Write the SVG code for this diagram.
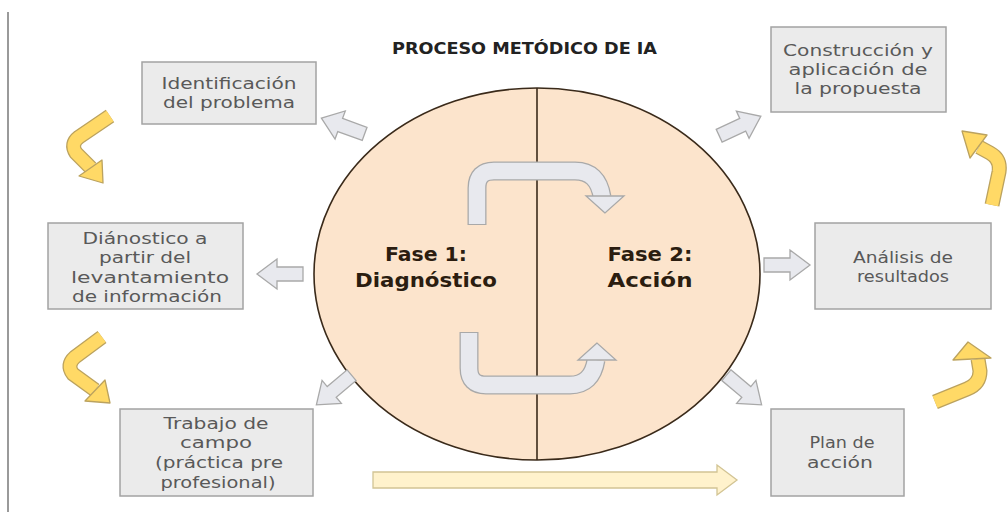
<svg xmlns="http://www.w3.org/2000/svg" width="1008" height="512" viewBox="0 0 1008 512">
<defs>
<style>
.box{fill:#EBEBEB;stroke:#A3A3A3;stroke-width:1.5}
.bt{font-family:"DejaVu Sans","Liberation Sans",sans-serif;font-size:16px;fill:#595959;text-anchor:middle}
.fase{font-family:"DejaVu Sans","Liberation Sans",sans-serif;font-size:20px;font-weight:bold;fill:#2b1d10;text-anchor:middle}
.garrow{fill:#E8E9EE;stroke:#A9A9A9;stroke-width:1.3}
.gs-out{fill:none;stroke:#A9A9A9;stroke-width:19}
.gs-in{fill:none;stroke:#E8E9EE;stroke-width:16.4}
.ys-out{fill:none;stroke:#BBA25E;stroke-width:15}
.ys-in{fill:none;stroke:#FFD966;stroke-width:12.4}
.yhead{fill:#FFD966;stroke:#BBA25E;stroke-width:1.3;stroke-linejoin:round}
</style>
<polygon id="blk" points="-23,-7 3,-7 3,-15 23,0 3,15 3,7 -23,7"/>
</defs>
<rect width="1008" height="512" fill="#ffffff"/>
<line x1="8" y1="12" x2="8" y2="512" stroke="#9a9a9a" stroke-width="2"/>
<text x="524.5" y="54" font-family="DejaVu Sans, Liberation Sans, sans-serif" font-size="15.5" font-weight="bold" fill="#222" text-anchor="middle" textLength="265" lengthAdjust="spacingAndGlyphs">PROCESO METÓDICO DE IA</text>

<g id="circle">
<ellipse cx="537" cy="274" rx="223" ry="186" fill="#FCE4CC" stroke="#3a2a1a" stroke-width="1.6"/>
<line x1="537" y1="88" x2="537" y2="460" stroke="#3a2a1a" stroke-width="1.6"/>
<text class="fase" x="426" y="261" textLength="82" lengthAdjust="spacingAndGlyphs">Fase 1:</text>
<text class="fase" x="426" y="287" textLength="142" lengthAdjust="spacingAndGlyphs">Diagnóstico</text>
<text class="fase" x="650" y="261" textLength="85" lengthAdjust="spacingAndGlyphs">Fase 2:</text>
<text class="fase" x="650" y="287" textLength="85" lengthAdjust="spacingAndGlyphs">Acción</text>
</g>

<g id="connectors">
<path class="gs-out" d="M 477 225 V 188 Q 477 171 494 171 H 575 Q 598 171 602 197"/>
<path class="gs-in" d="M 477 224 V 188 Q 477 171 494 171 H 575 Q 598 171 602 197"/>
<polygon class="garrow" points="605,213 586,196 624,196"/>
<path class="gs-out" d="M 469 332 V 368 Q 469 385 486 385 H 570 Q 592 385 596 360"/>
<path class="gs-in" d="M 469 333 V 368 Q 469 385 486 385 H 570 Q 592 385 596 360"/>
<polygon class="garrow" points="597,343 578,360 616,360"/>
<use href="#blk" class="garrow" transform="translate(343,126) rotate(200)"/>
<use href="#blk" class="garrow" transform="translate(740,126) rotate(-25)"/>
<use href="#blk" class="garrow" transform="translate(280,274) rotate(180)"/>
<use href="#blk" class="garrow" transform="translate(787,265)"/>
<use href="#blk" class="garrow" transform="translate(334,390) rotate(140)"/>
<use href="#blk" class="garrow" transform="translate(744,390) rotate(40)"/>
<polygon points="373,472 717,472 717,465 737,480 717,495 717,488 373,488" fill="#FFF2CC" stroke="#D2C494" stroke-width="1.3"/>
<path class="ys-out" d="M 110 116 L 79 137 Q 70 144 76 153 L 91 168"/>
<path class="ys-in" d="M 110 116 L 79 137 Q 70 144 76 153 L 91 168"/>
<polygon class="yhead" points="103,183 79,176 102,160"/>
<path class="ys-out" d="M 102 337 L 75 357 Q 66 365 73 374 L 95 390"/>
<path class="ys-in" d="M 102 337 L 75 357 Q 66 365 73 374 L 95 390"/>
<polygon class="yhead" points="110,403 85,401 105,380"/>
<path class="ys-out" d="M 992 205 L 999 172 Q 1001 159 990 153 L 979 147"/>
<path class="ys-in" d="M 992 205 L 999 172 Q 1001 159 990 153 L 979 147"/>
<polygon class="yhead" points="962,131 987,135 970,158"/>
<path class="ys-out" d="M 935 402 L 967 389 Q 980 384 980 371 L 978 359"/>
<path class="ys-in" d="M 935 402 L 967 389 Q 980 384 980 371 L 978 359"/>
<polygon class="yhead" points="968,342 953,360 991,358"/>
</g>

<g id="n-identificacion">
<rect class="box" x="142" y="62" width="174" height="62"/>
<text class="bt" x="229" y="89" textLength="135" lengthAdjust="spacingAndGlyphs">Identificación</text>
<text class="bt" x="229" y="108" textLength="132" lengthAdjust="spacingAndGlyphs">del problema</text>
</g>
<g id="n-construccion">
<rect class="box" x="771" y="27" width="175" height="85"/>
<text class="bt" x="858" y="56" textLength="150" lengthAdjust="spacingAndGlyphs">Construcción y</text>
<text class="bt" x="858" y="75" textLength="139" lengthAdjust="spacingAndGlyphs">aplicación de</text>
<text class="bt" x="858" y="94" textLength="127" lengthAdjust="spacingAndGlyphs">la propuesta</text>
</g>
<g id="n-diagnostico">
<rect class="box" x="48" y="223" width="195" height="86"/>
<text class="bt" x="145" y="244" textLength="125" lengthAdjust="spacingAndGlyphs">Diánostico a</text>
<text class="bt" x="145" y="263" textLength="92" lengthAdjust="spacingAndGlyphs">partir del</text>
<text class="bt" x="150" y="283" textLength="158" lengthAdjust="spacingAndGlyphs">levantamiento</text>
<text class="bt" x="147" y="302" textLength="150" lengthAdjust="spacingAndGlyphs">de información</text>
</g>
<g id="n-analisis">
<rect class="box" x="815" y="223" width="176" height="86"/>
<text class="bt" x="903" y="263" textLength="100" lengthAdjust="spacingAndGlyphs">Análisis de</text>
<text class="bt" x="903" y="282" textLength="92" lengthAdjust="spacingAndGlyphs">resultados</text>
</g>
<g id="n-trabajo">
<rect class="box" x="120" y="409" width="193" height="87"/>
<text class="bt" x="216" y="429" textLength="105" lengthAdjust="spacingAndGlyphs">Trabajo de</text>
<text class="bt" x="216" y="448" textLength="72" lengthAdjust="spacingAndGlyphs">campo</text>
<text class="bt" x="219" y="468" textLength="128" lengthAdjust="spacingAndGlyphs">(práctica pre</text>
<text class="bt" x="218" y="488" textLength="115" lengthAdjust="spacingAndGlyphs">profesional)</text>
</g>
<g id="n-plan">
<rect class="box" x="771" y="409" width="133" height="87"/>
<text class="bt" x="842" y="448" textLength="65" lengthAdjust="spacingAndGlyphs">Plan de</text>
<text class="bt" x="840" y="468" textLength="66" lengthAdjust="spacingAndGlyphs">acción</text>
</g>
</svg>
